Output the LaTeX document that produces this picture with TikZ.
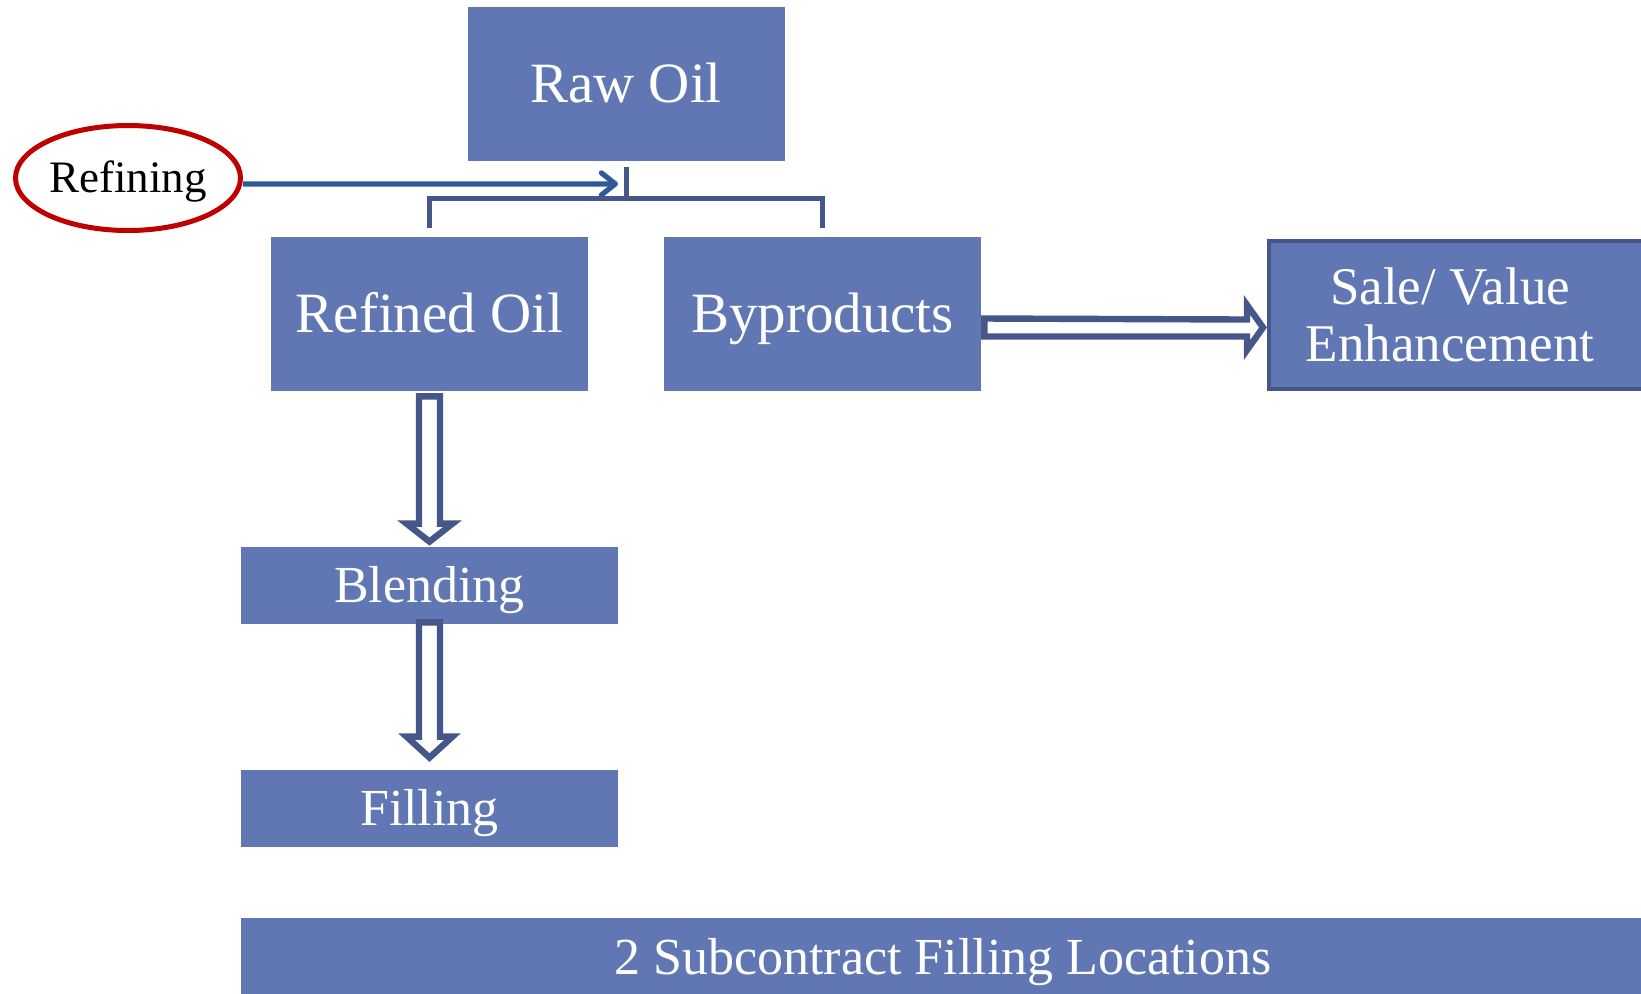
\documentclass[tikz,border=0pt]{standalone}
\usepackage{fontspec}
\setmainfont{Liberation Serif}
\usetikzlibrary{positioning,calc,shapes.geometric,arrows.meta}

\definecolor{boxblue}{HTML}{6077B4}
\definecolor{edgeblue}{HTML}{44568A}
\definecolor{linkblue}{HTML}{2E5A9A}
\definecolor{ringred}{HTML}{C00000}

\begin{document}
\begin{tikzpicture}[
  x=0.5pt,
  y=-0.5pt,
  box/.style={fill=boxblue, text=white, align=center, inner sep=0pt},
  big/.style={box, minimum width=158.5pt, minimum height=77pt, text height=18.9pt, text depth=0pt, font=\fontsize{28.5pt}{34pt}\selectfont},
  wide/.style={box, minimum width=188.5pt, minimum height=38.5pt, text height=17.2pt, text depth=0pt, font=\fontsize{26pt}{30pt}\selectfont},
  ring/.style={draw=ringred, line width=2.5pt, ellipse, inner sep=0pt, minimum width=112.5pt, minimum height=52.5pt},
  hollow/.style={draw=edgeblue, line width=3.2pt, fill=white, line join=miter},
  bracket/.style={draw=edgeblue, line width=2.5pt},
  link/.style={draw=linkblue, line width=2.6pt, -{Straight Barb[length=7pt, width=11pt, round]}}
]

\useasboundingbox (0,0) rectangle (1641,993);

\node[big] (raw) at (626,83.5) {Raw Oil};
\node[ring, text height=14.9pt, text depth=0pt, font=\fontsize{22.5pt}{27pt}\selectfont] (refining) at (128,178) {Refining};

\node[big] (refined) at (429.5,314) {Refined Oil};
\node[big] (byprod) at (822.5,314) {Byproducts};
\node[box, draw=edgeblue, line width=2pt, minimum width=195pt, minimum height=74pt,
  label={[text=white, align=center, xshift=-7pt, font=\fontsize{26.5pt}{28.3pt}\selectfont]center:{Sale/ Value\\Enhancement}}] (sale) at (1464,315) {};

\node[wide] (blend) at (429.5,585.5) {Blending};
\node[wide] (fill) at (429.5,808.5) {Filling};

\node[box, minimum width=702pt, minimum height=39.5pt, text height=17.2pt, text depth=0pt, font=\fontsize{26pt}{30pt}\selectfont] (sites) at (943,957.5) {2 Subcontract Filling Locations};

% Refining feeds the split below Raw Oil
\coordinate (tip) at ($(raw.south)+(-8,23)$);
\draw[link] ($(refining.east)+(0,6)$) -- (tip);

\draw[bracket] ($(raw.south)+(0,6)$) -- ($(raw.south)+(0,38)$);
\draw[bracket] ($(refined.north)+(0,-9)$) |- ($(byprod.north)+(0,-38)$) -- ($(byprod.north)+(0,-9)$);

% block arrows
\draw[hollow] ($(byprod.east)+(3,4.5)$) -- ($(sale.west)+(-20,4.5)$) -- ($(sale.west)+(-20,-10)$)
  -- ($(sale.west)+(-4,12.5)$) -- ($(sale.west)+(-20,35)$) -- ($(sale.west)+(-20,21.5)$)
  -- ($(byprod.east)+(3,22.5)$) -- cycle;

\draw[hollow] ($(refined.south)+(-10.5,5)$) -- ($(blend.north)+(-10.5,-23)$) -- ($(blend.north)+(-23,-23)$)
  -- ($(blend.north)+(0,-5)$) -- ($(blend.north)+(23,-23)$) -- ($(blend.north)+(10.5,-23)$)
  -- ($(refined.south)+(10.5,5)$) -- cycle;

\draw[hollow] ($(blend.south)+(-10.5,-2)$) -- ($(fill.north)+(-10.5,-33)$) -- ($(fill.north)+(-23,-33)$)
  -- ($(fill.north)+(0,-12)$) -- ($(fill.north)+(23,-33)$) -- ($(fill.north)+(10.5,-33)$)
  -- ($(blend.south)+(10.5,-2)$) -- cycle;

\end{tikzpicture}
\end{document}
